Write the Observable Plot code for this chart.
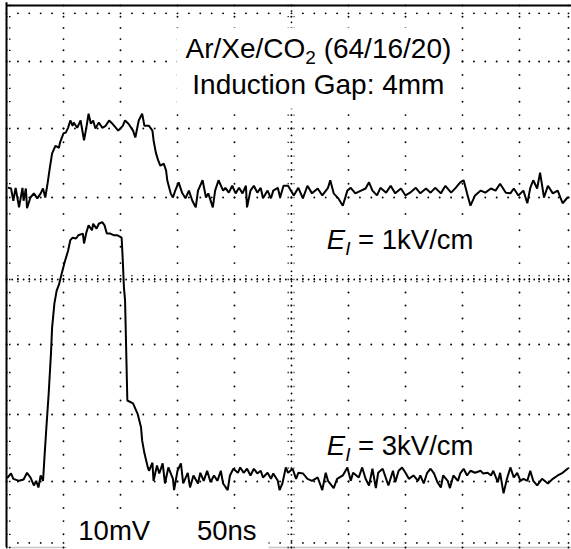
<!DOCTYPE html>
<html>
<head>
<meta charset="utf-8">
<script src="https://cdn.jsdelivr.net/npm/d3@7"></script>
<script src="https://cdn.jsdelivr.net/npm/@observablehq/plot@0.6"></script>
<style>
  html, body { margin: 0; padding: 0; background: #fff; }
  #chart svg { display: block; }
</style>
</head>
<body>
<div id="chart"></div>
<script>
// ---- Graticule: 50 ns/div horizontally, 10 mV/div vertically ----
const timeTicks = [0, 50, 100, 150, 200, 250, 300, 350, 400, 450, 500]; // ns
const voltTicks = [-40, -30, -20, -10, 0, 10, 20, 30, 40];            // mV

// ---- Signal traces [time (ns), amplitude (mV)] ----
// E_I = 1 kV/cm (upper trace)
const trace1kV = [[2,11.4],[4,11.3],[6,9.6],[8,11.4],[11,8.8],[14,11.4],[15,9.6],[17,11.3],[18,8.7],[21,10.0],[24,10.6],[27,9.9],[30,10.6],[32,11.3],[34,10.0],[36,12.0],[38,14.3],[40,16.4],[43,17.5],[46,17.2],[47,18.0],[50,19.3],[52,19.4],[54,20.1],[56,21.2],[58,20.4],[59,20.9],[62,20.1],[65,21.2],[68,18.3],[70,20.1],[72,22.2],[74,20.7],[76,21.2],[78,20.0],[81,20.9],[84,20.1],[87,20.4],[90,21.2],[93,20.7],[96,20.1],[98,19.7],[102,20.4],[104,21.2],[107,20.7],[111,19.7],[113,18.7],[116,21.2],[119,22.2],[121,20.4],[125,20.4],[128,19.7],[129,18.3],[131,16.5],[133,15.4],[135,14.6],[138,14.9],[140,13.9],[141,12.5],[144,10.6],[146,10.0],[148,11.0],[151,12.2],[154,10.7],[157,9.9],[160,11.0],[163,9.6],[166,8.8],[168,11.0],[172,12.5],[175,10.0],[177,10.6],[181,8.8],[183,11.0],[186,12.5],[190,11.0],[192,11.4],[195,10.7],[198,11.7],[201,10.6],[204,11.4],[207,10.6],[210,11.7],[211,8.8],[214,11.0],[217,11.7],[220,10.7],[223,11.4],[225,9.9],[229,11.0],[232,9.9],[234,11.0],[238,11.4],[240,10.0],[243,11.7],[247,11.7],[252,10.3],[256,11.4],[260,9.9],[264,11.7],[268,10.6],[273,11.3],[277,10.3],[282,11.4],[284,12.5],[287,10.6],[291,9.9],[295,9.0],[299,11.0],[302,11.4],[306,10.6],[311,11.0],[315,11.3],[318,12.2],[321,11.0],[325,10.3],[328,11.4],[333,10.7],[337,11.7],[341,10.6],[346,11.3],[350,10.3],[354,10.7],[359,11.4],[363,10.6],[368,11.3],[372,10.7],[376,11.4],[381,10.6],[385,11.7],[390,10.7],[394,11.4],[398,12.2],[401,12.5],[404,10.6],[407,9.0],[411,10.3],[416,11.0],[420,10.7],[425,11.3],[429,11.0],[433,12.0],[438,10.7],[442,10.6],[445,11.3],[449,10.3],[454,11.0],[458,9.3],[461,11.4],[464,12.5],[468,11.3],[471,13.6],[475,10.0],[479,11.7],[484,10.6],[489,11.0],[494,9.3],[499,10.0]];

// E_I = 3 kV/cm (lower trace)
const trace3kV = [[1,-29.4],[4,-28.8],[6,-29.6],[11,-29.9],[15,-29.7],[18,-28.7],[21,-29.4],[24,-30.6],[26,-29.9],[28,-30.9],[30,-29.1],[32,-29.9],[32.5,-28.7],[33.3,-26.4],[35,-21.9],[37,-17.0],[39,-11.3],[40,-7.4],[42,-3.7],[44,-1.7],[46,-0.8],[48,0.5],[51,2.1],[54,3.5],[56,4.8],[58,5.1],[61,5.0],[63,5.4],[67,5.6],[68,4.4],[70,5.7],[72,6.6],[75,6.0],[76,6.8],[79,6.2],[81,6.8],[84,7.0],[86,6.6],[88,5.6],[91,5.6],[94,5.4],[97,5.4],[101,5.1],[102,2.3],[103,-1.2],[104,-3.2],[106,-18.0],[111,-18.4],[115,-19.9],[118,-21.9],[119,-23.9],[121,-25.8],[124,-27.9],[125,-28.4],[128,-27.2],[129,-29.9],[132,-27.6],[134,-28.8],[137,-27.3],[139,-30.3],[142,-27.9],[146,-29.6],[147,-31.3],[150,-28.4],[153,-27.3],[155,-30.3],[159,-28.7],[161,-30.9],[164,-29.1],[168,-30.3],[170,-28.7],[173,-29.9],[176,-28.4],[179,-30.1],[182,-29.1],[185,-29.9],[188,-28.4],[190,-30.3],[194,-31.3],[196,-29.1],[199,-28.1],[203,-28.7],[205,-27.9],[208,-28.7],[211,-28.1],[214,-29.1],[217,-28.1],[220,-28.8],[223,-28.4],[225,-29.4],[229,-28.7],[232,-29.6],[234,-28.8],[238,-29.9],[239.5,-31.3],[242,-30.3],[245,-27.9],[247,-28.7],[251,-28.1],[254,-29.6],[256,-28.7],[260,-28.8],[264,-29.6],[268,-29.9],[273,-29.4],[277,-31.3],[280,-28.7],[282,-29.9],[287,-31.0],[290,-29.6],[295,-29.1],[299,-27.9],[302,-29.9],[304,-28.7],[309,-29.4],[312,-27.9],[315,-29.6],[318,-30.6],[321,-28.1],[324,-31.0],[326,-28.7],[330,-28.1],[332,-29.1],[335,-30.6],[339,-28.4],[341,-30.1],[344,-28.4],[347,-27.9],[350,-28.7],[353,-29.6],[357,-29.1],[361,-29.9],[363,-29.1],[366,-30.3],[369,-28.7],[372,-28.1],[375,-28.8],[378,-30.1],[381,-30.9],[383,-29.1],[387,-29.9],[389,-31.0],[392,-29.1],[396,-29.9],[398,-28.8],[401,-28.1],[404,-29.1],[407,-28.4],[411,-28.7],[416,-28.4],[418,-28.8],[422,-28.7],[425,-29.1],[427,-28.4],[431,-30.1],[433,-28.7],[436,-31.8],[439,-29.6],[442,-27.9],[445,-29.4],[448,-28.7],[451,-29.9],[454,-29.6],[458,-29.9],[461,-28.4],[464,-29.9],[468,-30.6],[473,-29.6],[479,-30.3],[484,-29.6],[489,-29.1],[494,-28.7],[499,-28.1]];

// ---- Labels (segments: s = text, sub = subscript, it = italic) ----
const titleLine1 = [{s: "Ar/Xe/CO"}, {s: "2", sub: true}, {s: " (64/16/20)"}];
const titleLine2 = [{s: "Induction Gap: 4mm"}];
const label1kV = [{s: "E", it: true}, {s: "I", sub: true, it: true}, {s: " = 1kV/cm"}];
const label3kV = [{s: "E", it: true}, {s: "I", sub: true, it: true}, {s: " = 3kV/cm"}];
const scaleVolt = [{s: "10mV"}];
const scaleTime = [{s: "50ns"}];

// label anchors in data units (time ns, amplitude mV at text baseline);
// labels sharing a "box" sit on one blank backdrop that hides the graticule
const labels = [
  {segs: titleLine1, t: 157, v: 30.7, size: 28, box: "title"},
  {segs: titleLine2, t: 163, v: 25.2, size: 28, box: "title"},
  {segs: label1kV,   t: 281, v: 3.7,  size: 27.5, box: "e1"},
  {segs: label3kV,   t: 281, v: -26.1, size: 27.5, box: "e3"},
  {segs: scaleVolt,  t: 63,  v: -38.9, size: 27.5, box: "readout"},
  {segs: scaleTime,  t: 167, v: -38.9, size: 27.5, box: "readout"}
];
labels.forEach(d => d.text = d.segs.map(x => x.s).join(""));

// ---- graticule dot sets (1/5 division minor steps) ----
const minorT = d3.range(0, 500.01, 10);
const minorV = d3.range(-40, 40.01, 2);
const gridT = timeTicks.filter(t => t > 0 && t !== 250);
const gridV = voltTicks.filter(v => v > -40 && v < 40 && v !== 0);
const colDots = gridT.flatMap(t => minorV.map(v => ({t, v})));
const rowDots = gridV.flatMap(v => minorT.map(t => ({t, v})));
const centerRowDots = d3.range(0, 500.01, 5).map(t => ({t, v: 0}));
const centerColDots = d3.range(-40, 40.01, 1).map(v => ({t: 250, v}));
const topDots = minorT.map(t => ({t, v: 38.6}));
const bottomDots = minorT.filter(t => t > 0).map(t => ({t, v: -39.3}));

// The photographed screen is slightly distorted: the graticule lines sit at
// uneven spacings, so the scales warp ns / mV piecewise onto the screen.
const screenX = [6, 63, 120, 177, 234, 291, 348, 405, 462, 519, 568];
const screenY = [547, 481, 414, 344, 279, 197, 128, 61, 5];
const warpX = d3.scaleLinear().domain(timeTicks).range(screenX);
const warpY = d3.scaleLinear().domain(voltTicks).range(screenY);

const FONT = "'Liberation Sans', Arial, Helvetica, sans-serif";

const svg = Plot.plot({
  width: 571,
  height: 549,
  margin: 0,
  style: {background: "#fff", fontFamily: FONT, color: "#000", overflow: "hidden"},
  x: {type: "linear", transform: warpX, domain: [0, 571], range: [0, 571], axis: null},
  y: {type: "linear", transform: warpY, domain: [0, 549], range: [0, 549], axis: null},
  marks: [
    // frame
    Plot.ruleY([-40], {x1: 0, x2: 520, stroke: "#c8c8c8", strokeWidth: 1.5}),
    Plot.ruleY([40], {x1: 0, x2: 520, stroke: "#000", strokeWidth: 2}),
    Plot.ruleX([0], {y1: -40, y2: 40.5, stroke: "#000", strokeWidth: 2}),
    // graticule dots
    Plot.dot(colDots, {x: "t", y: "v", r: 0.95, fill: "#000"}),
    Plot.dot(rowDots, {x: "t", y: "v", r: 0.95, fill: "#000"}),
    Plot.dot(topDots, {x: "t", y: "v", r: 0.95, fill: "#000"}),
    Plot.dot(bottomDots, {x: "t", y: "v", r: 0.9, fill: "#000"}),
    Plot.ruleY(minorV, {x1: 0, x2: 5, stroke: "#000", strokeWidth: 1.3, strokeDasharray: "1.5,1.5"}),
    // center axes with minor ticks
    Plot.dot(centerRowDots, {x: "t", y: "v", r: 0.9, fill: "#000"}),
    Plot.ruleX(minorT, {y1: -0.5, y2: 0.5, stroke: "#000", strokeWidth: 1.3, strokeDasharray: "1.2,1.8"}),
    Plot.dot(centerColDots, {x: "t", y: "v", r: 0.9, fill: "#000"}),
    Plot.ruleY(minorV, {x1: 247, x2: 253, stroke: "#000", strokeWidth: 1.3, strokeDasharray: "1.2,1.8"}),
    // traces
    Plot.line(trace1kV, {x: d => d[0], y: d => d[1], stroke: "#000", strokeWidth: 2, strokeLinejoin: "miter"}),
    Plot.line(trace3kV, {x: d => d[0], y: d => d[1], stroke: "#000", strokeWidth: 2, strokeLinejoin: "miter"}),
    // labels
    Plot.text(labels, {x: "t", y: "v", text: "text", textAnchor: "start", lineAnchor: "bottom",
      fontSize: d => d.size, fill: "#000", fontFamily: FONT})
  ]
});

// rebuild label text elements with italic / subscript tspans
const byText = new Map(labels.map(d => [d.text, d]));
const labelEls = [];
d3.select(svg).selectAll("text").each(function () {
  const lab = byText.get(this.textContent);
  if (!lab) return;
  labelEls.push({el: this, box: lab.box});
  const el = d3.select(this);
  el.text(null);
  let low = false;
  for (const seg of lab.segs) {
    const ts = el.append("tspan").text(seg.s);
    if (seg.it) ts.attr("font-style", "italic");
    if (seg.sub) {
      ts.attr("font-size", 19);
      if (!low) { ts.attr("dy", 6); low = true; }
    } else if (low) {
      ts.attr("dy", -6); low = false;
    }
  }
});

document.getElementById("chart").appendChild(svg);

// blank backdrops behind the on-screen annotations (they hide the graticule)
const pad = {title: [9, 9], e1: [7, 5], e3: [7, 4], readout: [12, 10]};
const boxes = new Map();
for (const {el, box} of labelEls) {
  const b = el.getBBox(), m = el.getCTM();
  const x0 = b.x + m.e, y0 = b.y + m.f, x1 = x0 + b.width, y1 = y0 + b.height;
  const cur = boxes.get(box);
  boxes.set(box, cur ? [Math.min(cur[0], x0), Math.min(cur[1], y0), Math.max(cur[2], x1), Math.max(cur[3], y1)]
                     : [x0, y0, x1, y1]);
}
const firstLine = svg.querySelector('g[aria-label="line"]');
for (const [key, [x0, y0, x1, y1]] of boxes) {
  const [px, py] = pad[key];
  const r = document.createElementNS("http://www.w3.org/2000/svg", "rect");
  r.setAttribute("x", x0 - px);
  r.setAttribute("y", y0 - py + 4);
  r.setAttribute("width", x1 - x0 + 2 * px);
  r.setAttribute("height", y1 - y0 + 2 * py - 4);
  r.setAttribute("fill", "#fff");
  svg.insertBefore(r, firstLine);
}
</script>
</body>
</html>
